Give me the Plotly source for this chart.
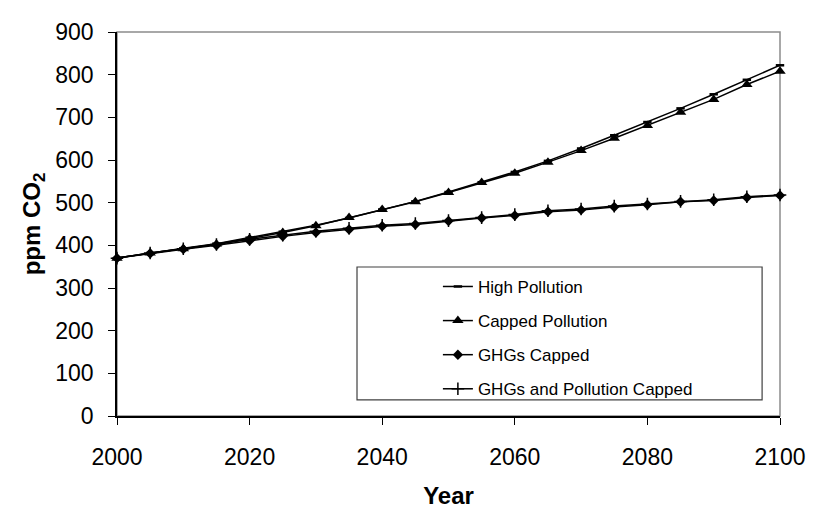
import plotly.graph_objects as go

# CO2 concentration scenarios, 5-year steps
years = list(range(2000, 2101, 5))

high_pollution = [370, 382, 393, 404, 418, 432, 447, 464, 484, 503, 525, 548,
                  572, 598, 627, 658, 689, 721, 754, 788, 822]
capped_pollution = [370, 382, 392, 403, 416, 430, 446, 465, 484, 502, 524, 547,
                    569, 595, 622, 651, 681, 712, 742, 777, 808]
ghgs_capped = [370, 381, 391, 400, 411, 421, 430, 437, 445, 449, 457, 464,
               470, 479, 483, 490, 495, 502, 505, 512, 517]
ghgs_pollution_capped = [370, 382, 392, 402, 414, 424, 433, 440, 447, 451, 458, 465,
                         472, 481, 485, 492, 497, 503, 507, 514, 518]

series = [
    ("High Pollution", high_pollution, dict(symbol="line-ew", size=6,
                                             line=dict(color="black", width=2.5))),
    ("Capped Pollution", capped_pollution, dict(symbol="triangle-up", size=10,
                                                color="black")),
    ("GHGs Capped", ghgs_capped, dict(symbol="diamond", size=8, color="black")),
    ("GHGs and Pollution Capped", ghgs_pollution_capped,
     dict(symbol="cross-thin", size=9, line=dict(color="black", width=1.5))),
]

font = "Liberation Sans, Arial, sans-serif"

fig = go.Figure()
for i, (name, vals, marker) in enumerate(series):
    fig.add_trace(
        go.Scatter(
            x=years,
            y=vals,
            mode="lines+markers",
            name=name,
            legendgroup=str(i),
            line=dict(color="black", width=1.5),
            marker=marker,
            cliponaxis=False,
        )
    )

# Gray frame for top/right of plot area, plus legend box
fig.add_shape(type="rect", xref="paper", yref="paper", x0=0, y0=0, x1=1, y1=1,
              line=dict(color="#8c8c8c", width=1.5), layer="below")
fig.add_shape(type="rect", xref="paper", yref="paper", x0=0.362, y0=0.042,
              x1=0.973, y1=0.388, line=dict(color="#404040", width=1.2),
              fillcolor="white", layer="below")

# the page body keeps its 8px default margin, so the figure is 8px smaller
fig.update_layout(
    width=809,
    height=508,
    margin=dict(l=109, r=31, t=11, b=100),
    plot_bgcolor="white",
    paper_bgcolor="white",
    font=dict(family=font, color="black"),
    showlegend=True,
    legend=dict(
        x=0.484,
        y=0.383,
        xanchor="left",
        yanchor="top",
        bgcolor="rgba(0,0,0,0)",
        font=dict(size=17),
        traceorder="grouped",
        tracegroupgap=9,
    ),
    xaxis=dict(
        range=[2000, 2100],
        tick0=2000,
        dtick=20,
        ticks="outside",
        ticklen=7,
        tickcolor="black",
        showline=True,
        linecolor="black",
        linewidth=1.5,
        showgrid=False,
        zeroline=False,
        tickfont=dict(size=23),
        ticklabelstandoff=13,
        ticklabeloverflow="allow",
        title=dict(text="<b>Year</b>", font=dict(size=24), standoff=18),
    ),
    yaxis=dict(
        range=[0, 900],
        dtick=100,
        ticks="outside",
        ticklen=7,
        tickcolor="black",
        showline=True,
        linecolor="black",
        linewidth=1.5,
        showgrid=False,
        zeroline=False,
        tickfont=dict(size=23),
        ticklabelstandoff=10,
        ticklabeloverflow="allow",
        title=dict(text="<b>ppm CO<sub>2</sub></b>", font=dict(size=24), standoff=8),
    ),
)

fig.write_html("out.html")
